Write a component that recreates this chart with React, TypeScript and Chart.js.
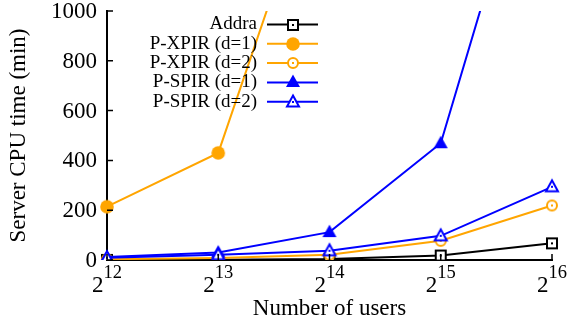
import React, { useEffect, useRef } from 'react';
import { Chart, registerables } from 'chart.js';

Chart.register(...registerables);

// ---- data ----
const exponents = ['12', '13', '14', '15', '16'];
const categories = exponents.map((e) => '2^' + e);
const seriesNames = ['Addra', 'P-XPIR (d=1)', 'P-XPIR (d=2)', 'P-SPIR (d=1)', 'P-SPIR (d=2)'];
const addra = [0.5, 1, 4, 18, 67];
const xpir1 = [214, 430, 1740, null, null];
const xpir2 = [3, 8, 21, 77, 219];
const spir1 = [12, 30, 112, 469, 1970];
const spir2 = [9, 21, 37, 97, 294];
const yTickValues = [0, 200, 400, 600, 800, 1000];

const ORANGE = '#FFA500';
const BLUE = '#0000FF';
const BLACK = '#000000';
const FONT = '"Liberation Serif", "Times New Roman", serif';

function makeMarker(kind: string, color: string): HTMLCanvasElement {
  const c = document.createElement('canvas');
  c.width = 20;
  c.height = 20;
  const g = c.getContext('2d')!;
  const cx = 10;
  const cy = 10;
  g.lineWidth = 2;
  g.strokeStyle = color;
  g.fillStyle = color;
  const dot = () => {
    g.fillStyle = color;
    g.fillRect(cx - 1, cy - 1, 2, 2);
  };
  if (kind === 'square') {
    g.fillStyle = '#fff';
    g.fillRect(cx - 5, cy - 5, 10, 10);
    g.strokeRect(cx - 5, cy - 5, 10, 10);
    dot();
  } else if (kind === 'circle') {
    g.beginPath();
    g.arc(cx, cy, 6.8, 0, Math.PI * 2);
    g.fill();
  } else if (kind === 'ocircle') {
    g.beginPath();
    g.arc(cx, cy, 5, 0, Math.PI * 2);
    g.fillStyle = '#fff';
    g.fill();
    g.stroke();
    dot();
  } else if (kind === 'triangle') {
    g.beginPath();
    g.moveTo(cx, cy - 7.5);
    g.lineTo(cx + 7, cy + 5);
    g.lineTo(cx - 7, cy + 5);
    g.closePath();
    g.fill();
  } else if (kind === 'otriangle') {
    g.beginPath();
    g.moveTo(cx, cy - 6.5);
    g.lineTo(cx + 6, cy + 4.5);
    g.lineTo(cx - 6, cy + 4.5);
    g.closePath();
    g.fillStyle = '#fff';
    g.fill();
    g.stroke();
    dot();
  }
  return c;
}

export default function App() {
  const ref = useRef<HTMLCanvasElement | null>(null);

  useEffect(() => {
    if (!ref.current) return;
    const markers = [
      makeMarker('square', BLACK),
      makeMarker('circle', ORANGE),
      makeMarker('ocircle', ORANGE),
      makeMarker('triangle', BLUE),
      makeMarker('otriangle', BLUE),
    ];
    const colors = [BLACK, ORANGE, ORANGE, BLUE, BLUE];
    const series = [addra, xpir1, xpir2, spir1, spir2];

    const decor = {
      id: 'decor',
      afterDraw(chart: any) {
        const ctx = chart.ctx;
        const xs = chart.scales.x;
        const ys = chart.scales.y;
        const area = chart.chartArea;
        ctx.save();
        // inward ticks
        ctx.strokeStyle = BLACK;
        ctx.lineWidth = 1.5;
        ctx.beginPath();
        yTickValues.forEach((v) => {
          const y = ys.getPixelForValue(v);
          ctx.moveTo(area.left, y);
          ctx.lineTo(area.left + 6, y);
        });
        categories.forEach((_, i) => {
          const x = xs.getPixelForValue(i);
          ctx.moveTo(x, area.bottom);
          ctx.lineTo(x, area.bottom - 6);
        });
        ctx.stroke();

        // y tick labels
        ctx.fillStyle = BLACK;
        ctx.font = `23px ${FONT}`;
        ctx.textAlign = 'right';
        ctx.textBaseline = 'middle';
        yTickValues.forEach((v) => {
          ctx.fillText(String(v), area.left - 10, ys.getPixelForValue(v) + 1);
        });

        // x tick labels with superscripts
        ctx.textBaseline = 'alphabetic';
        ctx.textAlign = 'left';
        exponents.forEach((e, i) => {
          const x = xs.getPixelForValue(i);
          ctx.font = `23px ${FONT}`;
          const w1 = ctx.measureText('2').width;
          ctx.font = `18.5px ${FONT}`;
          const w2 = ctx.measureText(e).width;
          const start = x - (w1 + w2) / 2;
          ctx.font = `23px ${FONT}`;
          ctx.fillText('2', start, 292);
          ctx.font = `18.5px ${FONT}`;
          ctx.fillText(e, start + w1, 278);
        });

        // legend
        ctx.font = `19px ${FONT}`;
        ctx.textAlign = 'right';
        ctx.textBaseline = 'middle';
        seriesNames.forEach((name, i) => {
          const y = 24.5 + i * 19.3;
          ctx.fillStyle = BLACK;
          ctx.fillText(name, 257, y);
          ctx.strokeStyle = colors[i];
          ctx.lineWidth = 2;
          ctx.beginPath();
          ctx.moveTo(267, y);
          ctx.lineTo(318, y);
          ctx.stroke();
          ctx.drawImage(markers[i], 293 - 10, Math.round(y) - 10);
        });
        ctx.restore();
      },
    };

    const chart = new Chart(ref.current, {
      type: 'line',
      data: {
        labels: categories,
        datasets: series.map((d, i) => ({
          label: seriesNames[i],
          data: d as any,
          borderColor: colors[i],
          backgroundColor: colors[i],
          borderWidth: 2,
          pointStyle: markers[i] as any,
          pointRadius: 6,
          pointHoverRadius: 6,
          tension: 0,
          fill: false,
          spanGaps: false,
          order: 5 - i,
        })),
      },
      options: {
        animation: false,
        responsive: false,
        devicePixelRatio: 1,
        layout: { padding: { top: 11, right: 15, bottom: 0, left: 0 } },
        plugins: { legend: { display: false }, tooltip: { enabled: false } },
        scales: {
          x: {
            type: 'category',
            offset: false,
            grid: { display: false, drawTicks: false },
            border: { display: true, color: BLACK, width: 2 },
            ticks: { display: false },
            title: {
              display: true,
              text: 'Number of users',
              color: BLACK,
              font: { family: FONT, size: 23, lineHeight: 1.2 },
              padding: { top: 0, bottom: 0 },
            },
            afterFit: (s: any) => {
              s.height = 63;
              s.paddingLeft = 0;
              s.paddingRight = 0;
            },
          },
          y: {
            min: 0,
            max: 1000,
            grid: { display: false, drawTicks: false },
            border: { display: true, color: BLACK, width: 2 },
            ticks: { display: false, stepSize: 200 },
            title: {
              display: true,
              text: 'Server CPU time (min)',
              color: BLACK,
              font: { family: FONT, size: 23, lineHeight: 1.2 },
              padding: { top: 5, bottom: 0 },
            },
            afterFit: (s: any) => {
              s.width = 107;
              s.paddingTop = 0;
              s.paddingBottom = 0;
            },
          },
        },
      },
      plugins: [decor],
    });
    return () => chart.destroy();
  }, []);

  return (
    <div style={{ position: 'absolute', left: 0, top: 0, width: 567, height: 323, background: '#fff' }}>
      <canvas ref={ref} width={567} height={323} style={{ width: 567, height: 323 }} />
    </div>
  );
}
